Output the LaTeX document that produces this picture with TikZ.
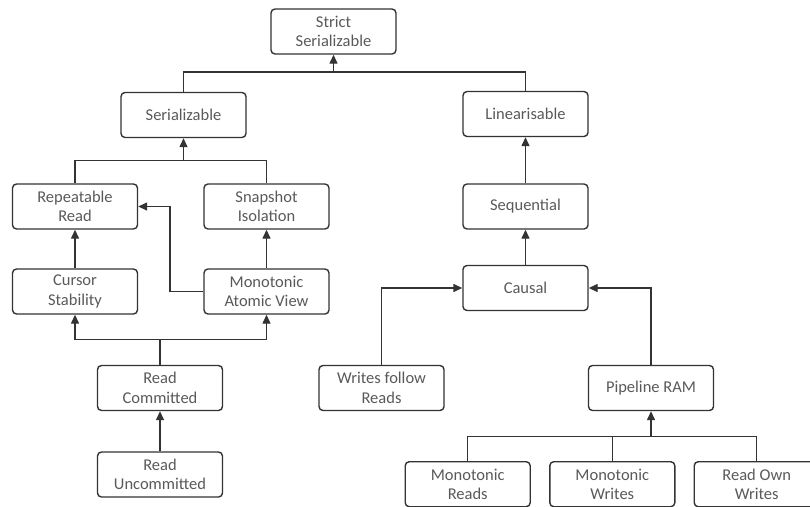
\documentclass[tikz,border=0pt]{standalone}
\usepackage{fontspec}
\setmainfont{Carlito}
\usetikzlibrary{arrows.meta}
\definecolor{boxline}{HTML}{333333}
\definecolor{labeltext}{HTML}{595959}
\begin{document}
\begin{tikzpicture}[x=1pt,y=-1pt,
  level/.style={draw=boxline, line width=1.4pt, rounded corners=4pt,
    minimum width=125pt, minimum height=45pt, text=labeltext,
    align=center, inner sep=0pt, font=\fontsize{16.5}{19.5}\selectfont},
  plain/.style={draw=boxline, line width=1.4pt},
  link/.style={plain, -{Triangle[length=9pt,width=8pt]}}]
\useasboundingbox (0,0) rectangle (810,506);
\clip (0,0) rectangle (810,506);

% consistency models
\node[level] (strict) at (333.5,31.5) {Strict\\Serializable};
\node[level] (ser)    at (183.5,115)  {Serializable};
\node[level] (lin)    at (525.5,114)  {Linearisable};
\node[level] (rr)     at (75,206.5)   {Repeatable\\Read};
\node[level] (si)     at (266.5,206.5){Snapshot\\Isolation};
\node[level] (seq)    at (525.5,206.5){Sequential};
\node[level] (cs)     at (75,291.5)   {Cursor\\Stability};
\node[level] (mav)    at (266.5,291.5){Monotonic\\Atomic View};
\node[level] (causal) at (525.5,288)  {Causal};
\node[level] (rc)     at (160,388)    {Read\\Committed};
\node[level] (ru)     at (160,474.5)  {Read\\Uncommitted};
\node[level] (wfr)    at (381.5,388)  {Writes follow\\Reads};
\node[level] (pram)   at (651,388)    {Pipeline RAM};
\node[level] (mr)     at (467.7,484.2){Monotonic\\Reads};
\node[level] (mw)     at (612.3,484.2){Monotonic\\Writes};
\node[level] (row)    at (756.7,484.2){Read Own\\Writes};

% junction points of the merging lines
\coordinate (topbus) at (333.5,72);
\coordinate (serbus) at (183.5,160.7);
\coordinate (rcbus)  at (160,339.3);
\coordinate (pbus)   at (651,436.7);

% top level
\draw[plain] (ser.north) |- (topbus) -| (lin.north);
\draw[link] (topbus) -- (strict.south);

% transactional branch
\draw[plain] (rr.north) |- (serbus) -| (si.north);
\draw[link] (serbus) -- (ser.south);
\draw[link] (cs.north) -- (rr.south);
\draw[link] (mav.north) -- (si.south);
\draw[link] (mav.west) -- ++(-33.5,0) |- (rr.east);
\draw[plain] (rc.north) -- (rcbus);
\draw[link] (rcbus) -| (cs.south);
\draw[link] (rcbus) -| (mav.south);
\draw[link] (ru.north) -- (rc.south);

% non-transactional branch
\draw[link] (seq.north) -- (lin.south);
\draw[link] (causal.north) -- (seq.south);
\draw[link] (wfr.north) |- (causal.west);
\draw[link] (pram.north) |- (causal.east);
\draw[plain] (mr.north) |- (row.north |- pbus) -- (row.north);
\draw[plain] (mw.north) -- (mw.north |- pbus);
\draw[link] (pbus) -- (pram.south);
\end{tikzpicture}
\end{document}
